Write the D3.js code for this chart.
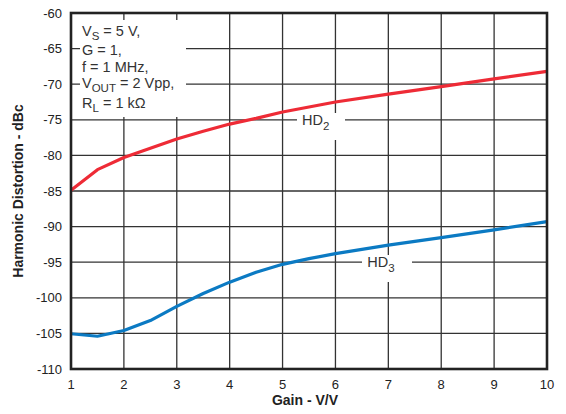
<!DOCTYPE html>
<html><head><meta charset="utf-8">
<script src="https://cdn.jsdelivr.net/npm/d3@7/dist/d3.min.js"></script>
<style>body{margin:0;background:#fff}svg{display:block;font-family:"Liberation Sans",Arial,sans-serif}</style>
</head><body><div id="chart"></div>
<script>
const gainX = [1, 1.5, 2, 2.5, 3, 3.5, 4, 4.5, 5, 5.5, 6, 7, 8, 9, 10];
const hd2 = [-84.9, -82.0, -80.3, -79.0, -77.7, -76.6, -75.6, -74.8, -73.9, -73.2, -72.5, -71.4, -70.35, -69.25, -68.2];
const hd3 = [-105.05, -105.4, -104.6, -103.2, -101.2, -99.4, -97.8, -96.4, -95.3, -94.5, -93.8, -92.6, -91.55, -90.45, -89.3];
const xTicks = [1, 2, 3, 4, 5, 6, 7, 8, 9, 10];
const yTicks = [-60, -65, -70, -75, -80, -85, -90, -95, -100, -105, -110];
const seriesNames = ["HD2", "HD3"];
const labelPos = [[5.37, -75.7], [6.6, -95.7]];
const conditions = [["V", "S", " = 5 V,"], ["G = 1,", "", ""], ["f = 1 MHz,", "", ""], ["V", "OUT", " = 2 Vpp,"], ["R", "L", " = 1 kΩ"]];

const W = 566, H = 414;
const m = {l: 71, r: 19, t: 13, b: 45};
const svg = d3.select("#chart").append("svg").attr("width", W).attr("height", H);
const x = d3.scaleLinear().domain([1, 10]).range([m.l, W - m.r]);
const y = d3.scaleLinear().domain([-110, -60]).range([H - m.b, m.t]);

const g = svg.append("g");
// grid
g.selectAll(".vg").data(xTicks).join("line")
  .attr("x1", d => x(d)).attr("x2", d => x(d)).attr("y1", m.t).attr("y2", H - m.b)
  .attr("stroke", "#333").attr("stroke-width", 1.3);
g.selectAll(".hg").data(yTicks).join("line")
  .attr("y1", d => y(d)).attr("y2", d => y(d)).attr("x1", m.l).attr("x2", W - m.r)
  .attr("stroke", "#333").attr("stroke-width", 1.3);

// white boxes behind annotations
g.append("rect").attr("x", 80).attr("y", 20).attr("width", 106).attr("height", 97).attr("fill", "#fff");
g.append("rect").attr("x", 297).attr("y", 113).attr("width", 48).attr("height", 27).attr("fill", "#fff");
g.append("rect").attr("x", 362).attr("y", 255).attr("width", 50).attr("height", 27).attr("fill", "#fff");

// curves
const line = d3.line().x((d, i) => x(gainX[i])).y(d => y(d)).curve(d3.curveLinear);
g.append("path").attr("d", line(hd2)).attr("fill", "none").attr("stroke", "#ee2b36").attr("stroke-width", 3.2).attr("stroke-linejoin", "round");
g.append("path").attr("d", line(hd3)).attr("fill", "none").attr("stroke", "#0b7ac3").attr("stroke-width", 3.2).attr("stroke-linejoin", "round");

// frame
g.append("rect").attr("x", m.l).attr("y", m.t).attr("width", W - m.l - m.r).attr("height", H - m.t - m.b)
  .attr("fill", "none").attr("stroke", "#222").attr("stroke-width", 2.6);

// tick labels
svg.selectAll(".yl").data(yTicks).join("text")
  .attr("x", 62).attr("y", d => y(d) + 4.5).attr("text-anchor", "end")
  .attr("font-size", 13).attr("fill", "#222").text(d => d);
svg.selectAll(".xl").data(xTicks).join("text")
  .attr("x", d => x(d)).attr("y", 389).attr("text-anchor", "middle")
  .attr("font-size", 13).attr("fill", "#222").text(d => d);

// axis titles
svg.append("text").attr("x", 305).attr("y", 405).attr("text-anchor", "middle")
  .attr("font-size", 14).attr("font-weight", "bold").attr("fill", "#222").text("Gain - V/V");
svg.append("text").attr("transform", "translate(23,191) rotate(-90)").attr("text-anchor", "middle")
  .attr("font-size", 14).attr("font-weight", "bold").attr("fill", "#222").text("Harmonic Distortion - dBc");

// conditions
const baselines = [36, 54.5, 71.5, 88, 108];
conditions.forEach((c, i) => {
  const t = svg.append("text").attr("x", 82).attr("y", baselines[i]).attr("font-size", 14.5).attr("fill", "#333");
  t.append("tspan").text(c[0]);
  if (c[1]) {
    t.append("tspan").attr("font-size", 11.5).attr("dy", 4).text(c[1]);
    t.append("tspan").attr("dy", -4).text(c[2]);
  }
});

// series labels
seriesNames.forEach((n, i) => {
  const t = svg.append("text").attr("x", x(labelPos[i][0])).attr("y", y(labelPos[i][1]))
    .attr("font-size", 14.5).attr("fill", "#333");
  t.append("tspan").text(n.slice(0, 2));
  t.append("tspan").attr("font-size", 11.5).attr("dy", 5).text(n.slice(2));
});
</script></body></html>
